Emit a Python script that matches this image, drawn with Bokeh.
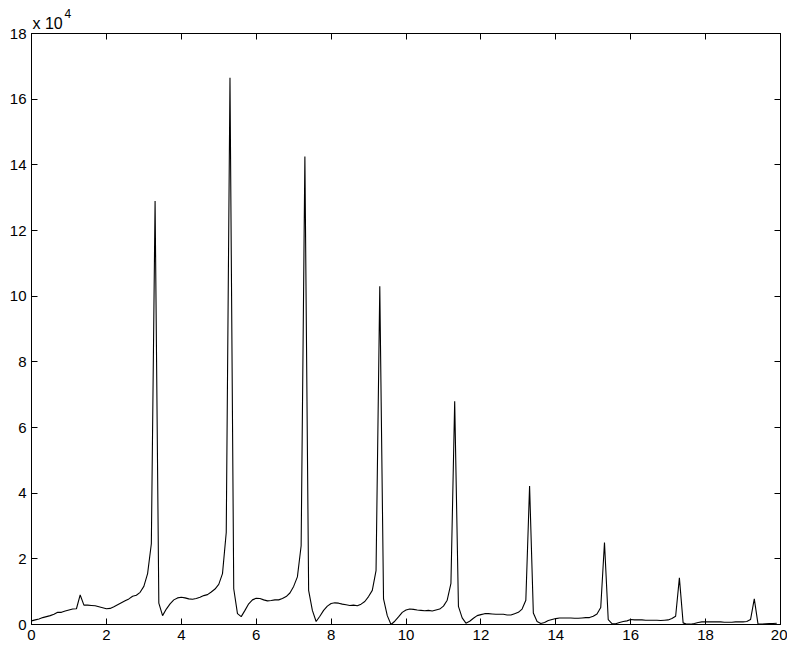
from bokeh.plotting import figure
from bokeh.models import FixedTicker, LinearAxis, Range1d, Title
from bokeh.embed import file_html
from bokeh.resources import INLINE

# x positions (step 0.1) and values in units of 1e4
x_vals = [round(i * 0.1, 1) for i in range(200)]
y_e4 = [
    # 0.0 - 0.9
    0.11, 0.14, 0.17, 0.21, 0.24, 0.27, 0.31, 0.37, 0.37, 0.41,
    # 1.0 - 1.9
    0.44, 0.47, 0.48, 0.90, 0.59, 0.59, 0.58, 0.57, 0.54, 0.51,
    # 2.0 - 2.9
    0.48, 0.49, 0.54, 0.60, 0.66, 0.72, 0.78, 0.86, 0.89, 0.98,
    # 3.0 - 3.9
    1.16, 1.55, 2.46, 12.90, 0.65, 0.27, 0.47, 0.63, 0.75, 0.81,
    # 4.0 - 4.9
    0.83, 0.81, 0.78, 0.77, 0.79, 0.83, 0.88, 0.91, 0.99, 1.08,
    # 5.0 - 5.9
    1.22, 1.55, 2.80, 16.65, 1.09, 0.33, 0.24, 0.43, 0.63, 0.75,
    # 6.0 - 6.9
    0.80, 0.79, 0.75, 0.72, 0.73, 0.75, 0.75, 0.79, 0.85, 0.96,
    # 7.0 - 7.9
    1.16, 1.45, 2.40, 14.25, 1.04, 0.43, 0.09, 0.25, 0.43, 0.56,
    # 8.0 - 8.9
    0.64, 0.66, 0.65, 0.62, 0.60, 0.58, 0.59, 0.57, 0.62, 0.70,
    # 9.0 - 9.9
    0.85, 1.04, 1.64, 10.30, 0.78, 0.27, 0.00, 0.10, 0.23, 0.37,
    # 10.0 - 10.9
    0.44, 0.47, 0.46, 0.44, 0.43, 0.42, 0.43, 0.41, 0.44, 0.47,
    # 11.0 - 11.9
    0.56, 0.74, 1.25, 6.80, 0.55, 0.20, 0.04, 0.10, 0.19, 0.27,
    # 12.0 - 12.9
    0.30, 0.33, 0.33, 0.32, 0.31, 0.31, 0.31, 0.29, 0.29, 0.33,
    # 13.0 - 13.9
    0.37, 0.47, 0.74, 4.22, 0.35, 0.09, 0.03, 0.06, 0.12, 0.15,
    # 14.0 - 14.9
    0.18, 0.20, 0.20, 0.20, 0.20, 0.19, 0.19, 0.20, 0.21, 0.21,
    # 15.0 - 15.9
    0.25, 0.32, 0.52, 2.50, 0.15, 0.03, 0.02, 0.06, 0.09, 0.11,
    # 16.0 - 16.9
    0.15, 0.14, 0.14, 0.14, 0.13, 0.13, 0.13, 0.13, 0.12, 0.13,
    # 17.0 - 17.9
    0.14, 0.18, 0.25, 1.42, 0.05, 0.01, 0.01, 0.03, 0.06, 0.08,
    # 18.0 - 18.9
    0.08, 0.08, 0.08, 0.08, 0.08, 0.07, 0.07, 0.07, 0.08, 0.08,
    # 19.0 - 19.9
    0.08, 0.09, 0.15, 0.78, 0.01, 0.01, 0.02, 0.03, 0.03, 0.04,
]

x_ticks = [0, 2, 4, 6, 8, 10, 12, 14, 16, 18, 20]
y_ticks = [0, 2, 4, 6, 8, 10, 12, 14, 16, 18]
scale_text = "x 10"
scale_exp = "4"

FONT = "Liberation Sans"

p = figure(width=787, height=646, output_backend="svg", toolbar_location=None,
           x_range=Range1d(0, 20), y_range=Range1d(0, 18),
           min_border_left=31, min_border_right=7, min_border_top=33,
           min_border_bottom=22)
p.background_fill_color = "white"
p.border_fill_color = "white"
p.outline_line_color = "black"
p.outline_line_width = 1
p.xgrid.visible = False
p.ygrid.visible = False

# outer row: the exponent
p.title.text = scale_exp
p.title.text_font = FONT
p.title.text_font_size = "12px"
p.title.text_font_style = "normal"
p.title.text_color = "black"
p.title.align = "left"
p.title.offset = 33
p.title.standoff = -12

p.line(x_vals, y_e4, line_color="black", line_width=1.1)

def style(ax, ticks, show_labels=True):
    ax.ticker = FixedTicker(ticks=ticks)
    ax.major_tick_in = 6
    ax.major_tick_out = 0
    ax.minor_tick_line_color = None
    ax.axis_line_color = "black"
    ax.major_tick_line_color = "black"
    ax.major_label_text_font = FONT
    ax.major_label_text_color = "black"
    ax.major_label_text_font_size = "15px"
    if not show_labels:
        ax.major_label_overrides = {t: "" for t in ticks}
        ax.major_label_standoff = 0

style(p.xaxis[0], x_ticks)
p.xaxis[0].major_label_standoff = 5
style(p.yaxis[0], y_ticks)
p.yaxis[0].major_label_standoff = 5

top = LinearAxis()
style(top, x_ticks, show_labels=False)
p.add_layout(top, "above")
right = LinearAxis()
style(right, y_ticks, show_labels=False)
p.add_layout(right, "right")

# inner row: "x 10"
base_title = Title(text=scale_text, align="left", offset=1, standoff=3,
                   text_font=FONT, text_font_size="16px",
                   text_font_style="normal", text_color="black")
p.add_layout(base_title, "above")

open("out.html", "w").write(file_html(p, INLINE))
